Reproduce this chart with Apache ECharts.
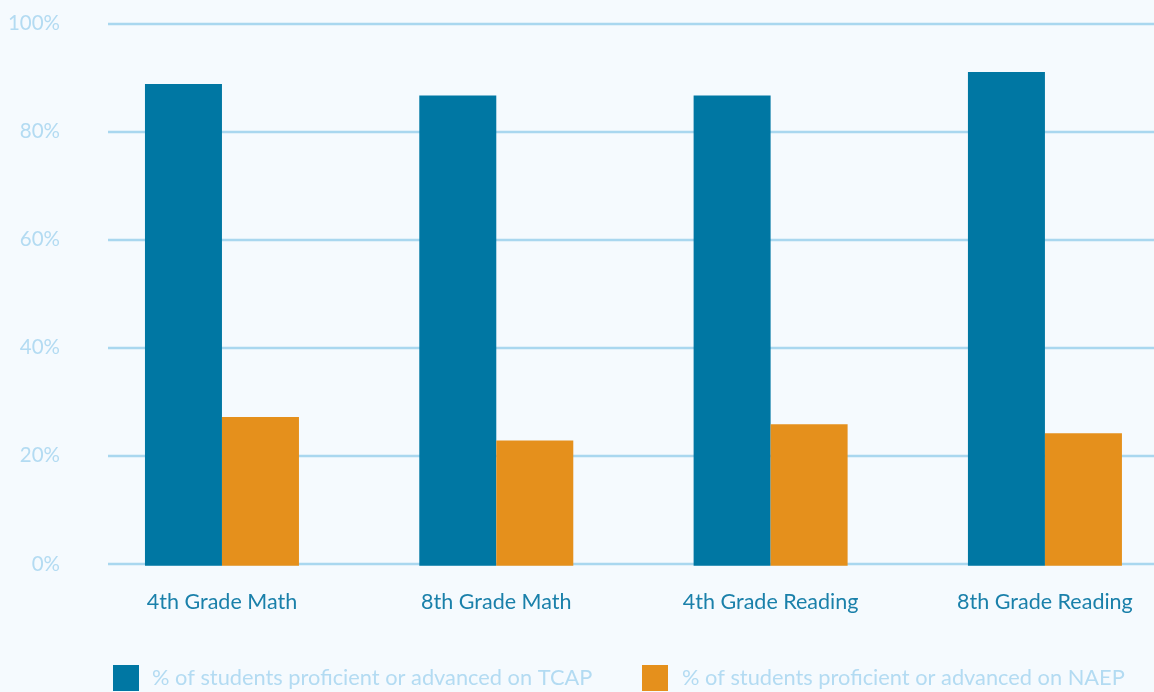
<!DOCTYPE html>
<html>
<head>
<meta charset="utf-8">
<script src="https://cdn.jsdelivr.net/npm/echarts@6/dist/echarts.min.js"></script>
<style>
html,body{margin:0;padding:0;background:#f5fafe;overflow:hidden;width:1154px;height:692px;}
#c{width:1200px;height:692px;}
</style>
</head>
<body>
<div id="c"></div>
<script>
var categories = ['4th Grade Math', '8th Grade Math', '4th Grade Reading', '8th Grade Reading'];
var tcapValues = [88.8, 86.7, 86.7, 91.0];
var naepValues = [27.4, 23.1, 26.1, 24.4];
var seriesNames = ['% of students proficient or advanced on TCAP', '% of students proficient or advanced on NAEP'];

var FONT = 'Lato';
var chart = echarts.init(document.getElementById('c'), null, {renderer: 'canvas'});
chart.setOption({
  backgroundColor: '#f5fafe',
  animation: false,
  textStyle: {fontFamily: FONT},
  grid: [
    {left: 108, right: 46, top: 23.3, height: 540.7},
    {left: 84.8, width: 1097.3, top: 23.3, height: 542.4}
  ],
  xAxis: [
    {gridIndex: 0, type: 'value', show: false, min: 0, max: 1},
    {gridIndex: 1, type: 'category', data: categories,
      axisLine: {show: false}, axisTick: {show: false},
      axisLabel: {color: '#1a80aa', fontSize: 21.5, fontFamily: FONT, margin: 25}}
  ],
  yAxis: [
    {gridIndex: 0, type: 'value', min: 0, max: 100, interval: 20,
      axisLine: {show: false}, axisTick: {show: false},
      axisLabel: {formatter: '{value}%', color: '#b3dbf2', fontSize: 20.5, fontFamily: FONT, margin: 48},
      splitLine: {lineStyle: {color: '#a9d7ef', width: 2.3}}},
    {gridIndex: 1, type: 'value', min: 0, max: 100, show: false, splitLine: {show: false}}
  ],
  legend: [
    {data: [seriesNames[0]], left: 113, top: 665, padding: 0, itemWidth: 26, itemHeight: 26, itemGap: 13,
      icon: 'rect', textStyle: {color: '#b3dbf2', fontSize: 21.8, fontFamily: FONT, padding: [5,0,0,8]}},
    {data: [seriesNames[1]], left: 642, top: 665, padding: 0, itemWidth: 26, itemHeight: 26, itemGap: 12,
      icon: 'rect', textStyle: {color: '#b3dbf2', fontSize: 21.8, fontFamily: FONT, padding: [5,0,0,9]}}
  ],
  series: [
    {name: seriesNames[0], type: 'bar', xAxisIndex: 1, yAxisIndex: 1, data: tcapValues,
      barWidth: 77, barGap: '0%', itemStyle: {color: '#0077a3'}},
    {name: seriesNames[1], type: 'bar', xAxisIndex: 1, yAxisIndex: 1, data: naepValues,
      barWidth: 77, barGap: '0%', itemStyle: {color: '#e5901c'}}
  ]
});
</script>
</body>
</html>
